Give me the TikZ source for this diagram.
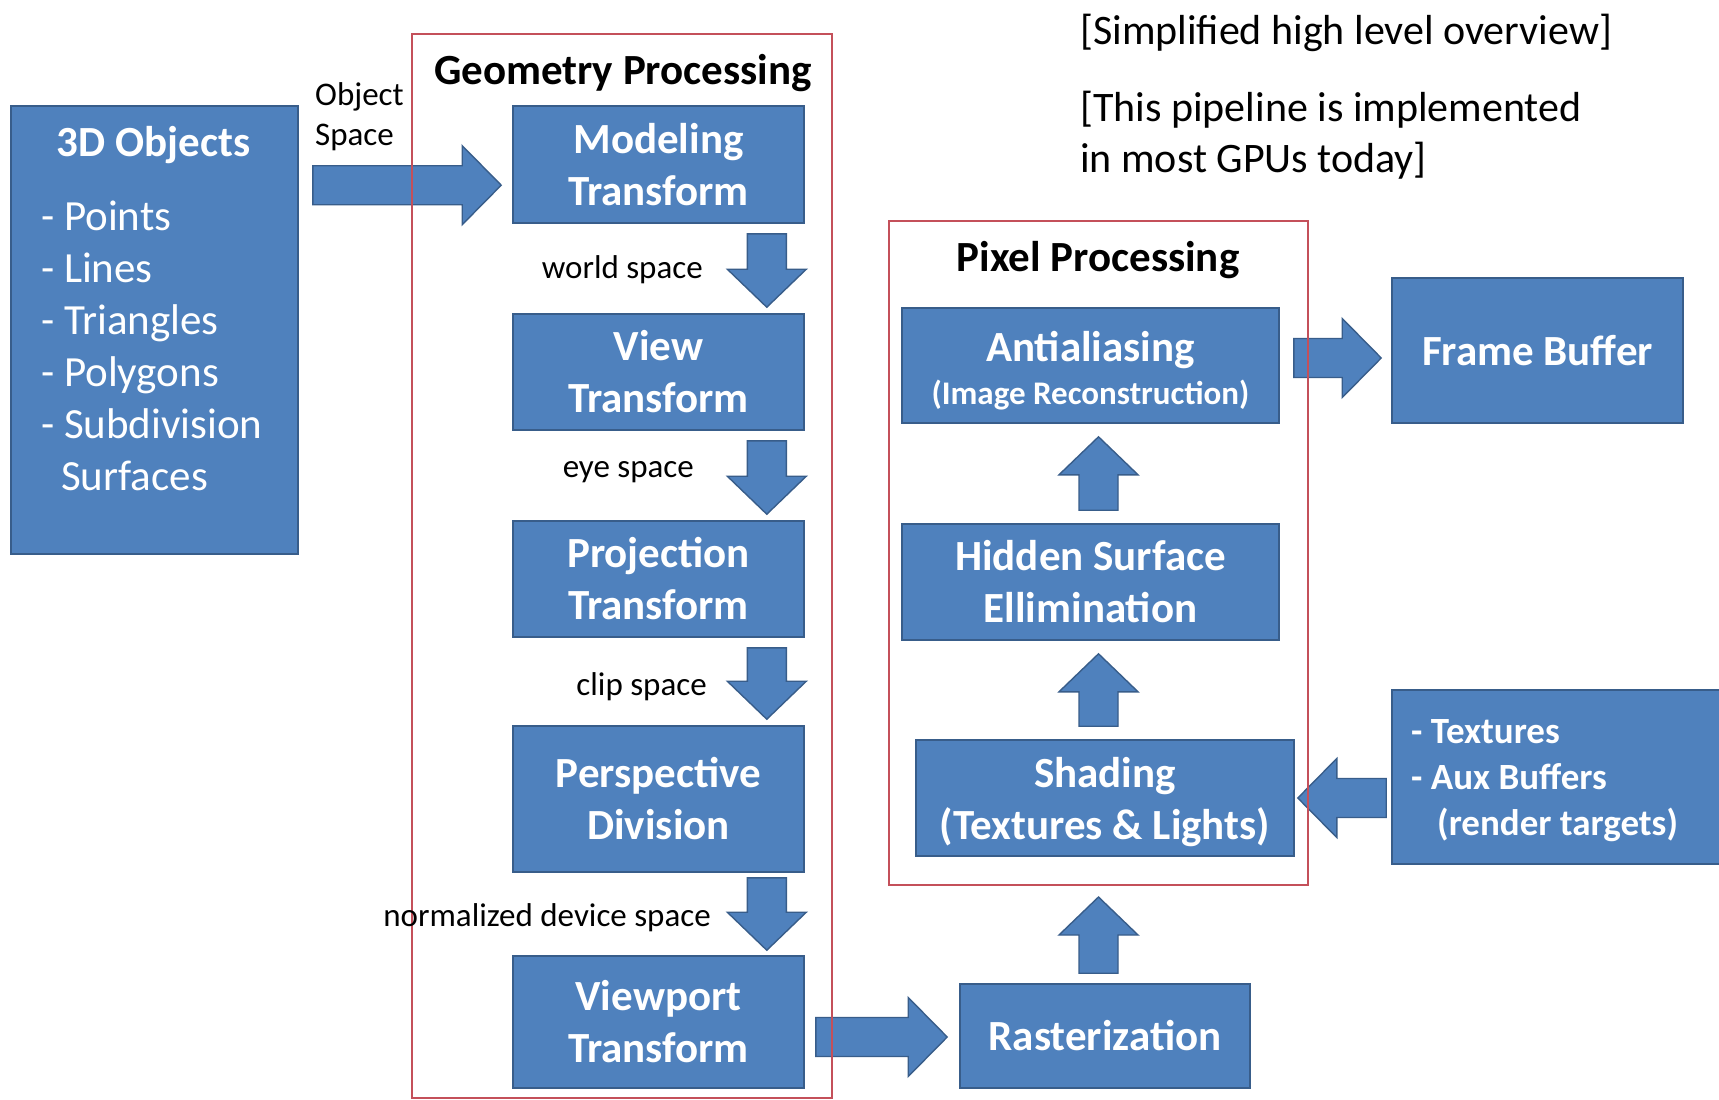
\documentclass[tikz,border=0pt]{standalone}
\usepackage{fontspec}
\setmainfont{Carlito}
\usetikzlibrary{calc}
\definecolor{bfill}{HTML}{4F81BD}
\definecolor{bdr}{HTML}{385D8A}
\definecolor{rframe}{HTML}{C4505A}
\tikzset{
  boxnode/.style={draw=bdr, fill=bfill, line width=1.6pt, text=white,
    font=\bfseries\fontsize{43}{52}\selectfont, align=center, inner sep=0pt},
  redframe/.style={draw=rframe, line width=2pt, inner sep=0pt},
  barrow/.style={draw=bdr, fill=bfill, line width=1.4pt, line join=miter},
  lbl/.style={font=\fontsize{33}{40}\selectfont, text=black, inner sep=0pt},
  ttl/.style={font=\bfseries\fontsize{43}{52}\selectfont, text=black, inner sep=0pt},
  wtxt/.style={text=white, inner sep=0pt},
}
\newcommand\harrow[2]{%
  \path[barrow] let \p1=(#1), \p2=(#2), \n1={(\x2-\x1)/abs(\x2-\x1)} in
    (\x1,{\y1+19.5pt}) -- ({\x2-(\n1)*39pt},{\y1+19.5pt}) -- ({\x2-(\n1)*39pt},{\y1+39.5pt})
    -- (\x2,\y1) -- ({\x2-(\n1)*39pt},{\y1-39.5pt}) -- ({\x2-(\n1)*39pt},{\y1-19.5pt})
    -- (\x1,{\y1-19.5pt}) -- cycle;}
\newcommand\varrow[2]{%
  \path[barrow] let \p1=(#1), \p2=(#2), \n1={(\y2-\y1)/abs(\y2-\y1)} in
    ({\x1-19.5pt},\y1) -- ({\x1-19.5pt},{\y2-(\n1)*38pt}) -- ({\x1-39.5pt},{\y2-(\n1)*38pt})
    -- (\x1,\y2) -- ({\x1+39.5pt},{\y2-(\n1)*38pt}) -- ({\x1+19.5pt},{\y2-(\n1)*38pt})
    -- ({\x1+19.5pt},\y1) -- cycle;}
\begin{document}
\begin{tikzpicture}[x=1pt,y=-1pt]
\useasboundingbox (0,0) rectangle (1719,1100);
\fill[white] (0,0) rectangle (1719,1100);

% 3D objects
\node[boxnode, minimum width=287pt, minimum height=448pt] (obj) at (154.5,330) {};
\node[wtxt, font=\bfseries\fontsize{43}{52}\selectfont] (objtitle) at (153.5,145.5) {3D Objects};
\node[wtxt, font=\fontsize{43}{52}\selectfont, align=left, anchor=north west] (objlist) at (41,201)
  {- Points\\- Lines\\- Triangles\\- Polygons\\- Subdivision\\\hspace{20pt}Surfaces};

% geometry boxes
\node[boxnode, minimum width=291pt, minimum height=117pt] (model) at (658.5,164.5) {Modeling\\Transform};
\node[boxnode, minimum width=291pt, minimum height=116pt] (view) at (658.5,372) {View\\Transform};
\node[boxnode, minimum width=291pt, minimum height=116pt] (proj) at (658.5,579) {Projection\\Transform};
\node[boxnode, minimum width=291pt, minimum height=146pt] (persp) at (658.5,799) {Perspective\\Division};
\node[boxnode, minimum width=291pt, minimum height=132pt] (vport) at (658.5,1022) {Viewport\\Transform};

% pixel boxes
\node[boxnode, minimum width=290pt, minimum height=104pt] (raster) at (1105,1036) {Rasterization};
\node[boxnode, minimum width=377pt, minimum height=115pt] (anti) at (1090.5,365.5)
  {\rule{0pt}{41pt}Antialiasing\\[-9pt]{\fontsize{33}{40}\selectfont (Image Reconstruction)}};
\node[boxnode, minimum width=377pt, minimum height=116pt] (hidden) at (1090.5,582) {Hidden Surface\\Ellimination};
\node[boxnode, minimum width=378pt, minimum height=116pt] (shading) at (1105,798) {\rule{0pt}{39pt}Shading\\(Textures \& Lights)};
\node[boxnode, minimum width=336pt, minimum height=174pt] (tex) at (1560,777) {};
\node[wtxt, font=\bfseries\fontsize{37}{46}\selectfont, align=left, anchor=west] (texlist) at (1411,781)
  {- Textures\\- Aux Buffers\\\hspace{26pt}(render targets)};
\node[boxnode, minimum width=291pt, minimum height=145pt] (fb) at (1537.5,350.5) {Frame Buffer};

\path (622,566) coordinate (geomc) (1098.5,553) coordinate (pixc);

% arrow end points
\coordinate (a0s) at ($(obj.north east)+(14,80)$);
\coordinate (a0e) at ($(model.west)+(-11,21.5)$);
\coordinate (d1s) at ($(model.south east)+(-38,10)$);
\coordinate (d1e) at ($(view.north east)+(-38,-6)$);
\coordinate (d2s) at ($(view.south east)+(-38,10)$);
\coordinate (d2e) at ($(proj.north east)+(-38,-6)$);
\coordinate (d3s) at ($(proj.south east)+(-38,10)$);
\coordinate (d3e) at ($(persp.north east)+(-38,-6)$);
\coordinate (d4s) at ($(persp.south east)+(-38,5)$);
\coordinate (d4e) at ($(vport.north east)+(-38,-5)$);
\coordinate (r1s) at ($(vport.east)+(11,15)$);
\coordinate (r1e) at ($(raster.west)+(-12,1)$);
\coordinate (u1s) at ($(raster.north)+(-6.5,-10)$);
\coordinate (u1e) at (1098.5,897);
\coordinate (u2s) at ($(shading.north)+(-6.5,-13)$);
\coordinate (u2e) at ($(hidden.south)+(8,13)$);
\coordinate (u3s) at ($(hidden.north)+(8,-13)$);
\coordinate (u3e) at ($(anti.south)+(8,13)$);
\coordinate (fbs) at ($(anti.east)+(14,-7.5)$);
\coordinate (fbe) at ($(fb.west)+(-10,7.5)$);
\coordinate (txs) at ($(tex.west)+(-5,21)$);
\coordinate (txe) at ($(shading.east)+(3,0)$);

\harrow{a0s}{a0e}
\varrow{d1s}{d1e}
\varrow{d2s}{d2e}
\varrow{d3s}{d3e}
\varrow{d4s}{d4e}
\harrow{r1s}{r1e}
\varrow{u1s}{u1e}
\varrow{u2s}{u2e}
\varrow{u3s}{u3e}
\harrow{fbs}{fbe}
\harrow{txs}{txe}

% red frames
\node[redframe, minimum width=420pt, minimum height=1064pt] (geom) at (geomc) {};
\node[redframe, minimum width=419pt, minimum height=664pt] (pixel) at (pixc) {};
\node[ttl] (geomtitle) at (623,73) {Geometry Processing};
\node[ttl] (pixtitle) at (1098,260.5) {Pixel Processing};

% labels
\node[lbl, align=left, anchor=west] (oslbl) at (315,116.5) {Object\\Space};
\node[lbl, anchor=east] (wslbl) at (703,269.5) {world space};
\node[lbl, anchor=east] (eslbl) at (694,472) {eye space};
\node[lbl, anchor=east] (cslbl) at (707,687) {clip space};
\node[lbl, anchor=east] (ndslbl) at (711,917.5) {normalized device space};

% notes
\node[inner sep=0pt, anchor=west, font=\fontsize{42}{51}\selectfont] (note1) at (1080,33) {[Simplified high level overview]};
\node[inner sep=0pt, anchor=west, align=left, font=\fontsize{42}{51}\selectfont] (note2) at (1080,135)
  {[This pipeline is implemented\\in most GPUs today]};
\end{tikzpicture}
\end{document}
